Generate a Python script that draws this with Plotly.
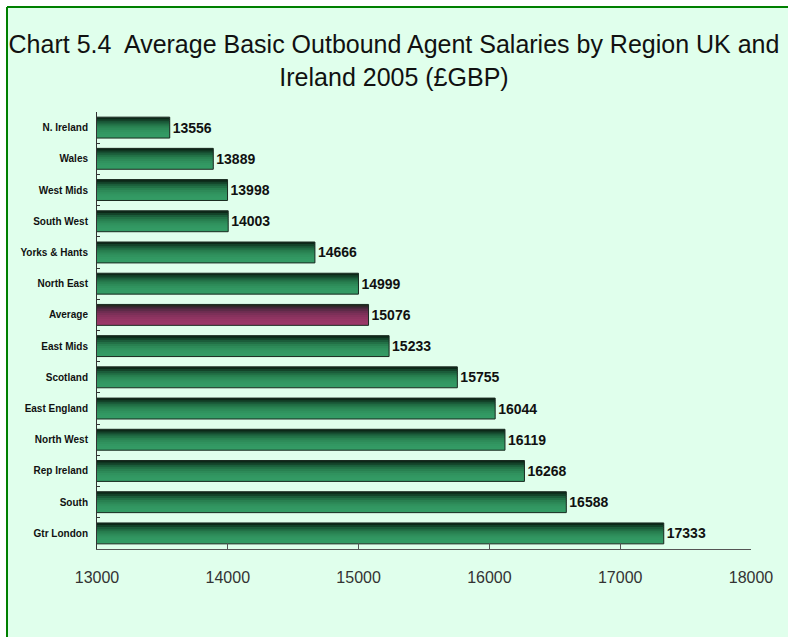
import plotly.graph_objects as go

# Average basic outbound agent salaries (GBP), 2005, top to bottom
regions = [
    "N. Ireland", "Wales", "West Mids", "South West", "Yorks & Hants",
    "North East", "Average", "East Mids", "Scotland", "East England",
    "North West", "Rep Ireland", "South", "Gtr London",
]
salaries = [13556, 13889, 13998, 14003, 14666, 14999, 15076,
            15233, 15755, 16044, 16119, 16268, 16588, 17333]
x_ticks = [13000, 14000, 15000, 16000, 17000, 18000]

# Vertical shading bands (top -> bottom) used to fake a gradient fill
green_bands = ["#0c2818", "#134229", "#1b5c3a", "#227046", "#288050",
               "#2d8a58", "#30925e", "#329762", "#339a64", "#349b65"]
purple_bands = ["#26271f", "#3f2636", "#592a45", "#6d2d50", "#7c3058",
                "#87325d", "#8f3461", "#953664", "#993867", "#9b3868"]

BAR_W = 0.67
n_bands = len(green_bands)
band_w = BAR_W / n_bands

fig = go.Figure()

for i in range(n_bands):
    colors = [purple_bands[i] if r == "Average" else green_bands[i] for r in regions]
    fig.add_trace(go.Bar(
        y=regions, x=salaries, orientation="h",
        width=band_w * 1.4 if i < n_bands - 1 else band_w,
        offset=-BAR_W / 2 + i * band_w,
        marker=dict(color=colors, line=dict(width=0)),
        hoverinfo="skip", showlegend=False,
    ))

# Outline + value labels
fig.add_trace(go.Bar(
    y=regions, x=salaries, orientation="h",
    width=BAR_W,
    marker=dict(color="rgba(0,0,0,0)", line=dict(color="#1a2a20", width=1)),
    text=[str(v) for v in salaries],
    textposition="outside",
    textfont=dict(family="Liberation Sans, Arial", size=14, color="#111", weight=700),
    cliponaxis=False,
    showlegend=False,
))

# Panel background with green frame (top and left edges visible)
L, R, T, B = 97, 37, 112, 88
W, H = 788, 637
pw, ph = W - L - R, H - T - B
fx0 = (7 - L) / pw
fx1 = (W + 20 - L) / pw
fy0 = -(B + 20) / ph
fy1 = (H - B - 7) / ph
fig.add_shape(
    type="rect", xref="paper", yref="paper", layer="below",
    x0=fx0, x1=fx1, y0=fy0, y1=fy1,
    fillcolor="#e0ffec", line=dict(width=0),
)
fig.add_shape(type="line", xref="paper", yref="paper", layer="above",
              x0=fx0, x1=fx1, y0=fy1, y1=fy1,
              line=dict(color="#008000", width=2))
fig.add_shape(type="line", xref="paper", yref="paper", layer="above",
              x0=fx0, x1=fx0, y0=fy0, y1=fy1,
              line=dict(color="#008000", width=2))

fig.update_layout(
    width=W, height=H,
    margin=dict(l=L, r=R, t=T, b=B),
    paper_bgcolor="white",
    plot_bgcolor="rgba(0,0,0,0)",
    barmode="overlay",
    title=dict(
        text="Chart 5.4  Average Basic Outbound Agent Salaries by Region UK and<br>Ireland 2005 (£GBP)",
        x=0.5, xref="container", xanchor="center",
        y=1 - 53 / H, yref="container", yanchor="top",
        font=dict(family="Liberation Sans, Arial", size=25, color="#111"),
    ),
    xaxis=dict(
        range=[13000, 18000], tickvals=x_ticks, tickformat="d",
        showgrid=False, zeroline=False,
        showline=True, linecolor="#555", linewidth=1,
        ticks="inside", ticklen=6, tickcolor="#555",
        tickfont=dict(family="Liberation Sans, Arial", size=16, color="#333"),
        ticklabelstandoff=14,
    ),
    yaxis=dict(
        type="category", categoryorder="array", categoryarray=regions,
        autorange="reversed",
        showgrid=False, zeroline=False,
        showline=True, linecolor="#333", linewidth=1,
        ticks="inside", ticklen=3, tickcolor="#333", tickson="boundaries",
        tickfont=dict(family="Liberation Sans, Arial", size=10, color="#111", weight=700),
        ticklabelstandoff=6,
    ),
)

fig.write_html("out.html")
